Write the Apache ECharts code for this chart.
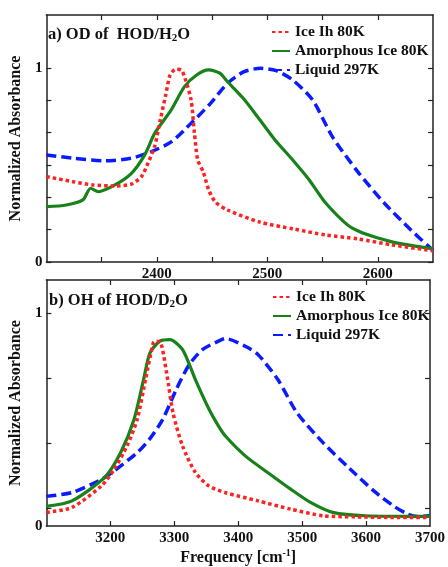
<!DOCTYPE html>
<html>
<head>
<meta charset="utf-8">
<script src="https://cdn.jsdelivr.net/npm/echarts@6/dist/echarts.min.js"></script>
<style>
  html, body { margin: 0; padding: 0; background: #fff; }
  #chart { width: 448px; height: 567px; }
</style>
</head>
<body>
<div id="chart"></div>
<script>
// a) OD of HOD/H2O
const freqIceA = [2300, 2324, 2342, 2362, 2377, 2386, 2392, 2398, 2403, 2408, 2412, 2417, 2422, 2426, 2431, 2434, 2437, 2442, 2447, 2453, 2464, 2493, 2524, 2553, 2582, 2613, 2650]
const iceA = [0.44, 0.414, 0.397, 0.392, 0.402, 0.44, 0.51, 0.595, 0.73, 0.86, 0.964, 0.993, 0.99, 0.938, 0.835, 0.665, 0.526, 0.464, 0.371, 0.309, 0.268, 0.206, 0.17, 0.139, 0.119, 0.088, 0.058]
const freqAmA = [2300, 2318, 2333, 2340, 2347, 2362, 2377, 2389, 2398, 2413, 2425, 2436, 2447, 2457, 2464, 2478, 2492, 2507, 2523, 2538, 2553, 2577, 2612, 2650]
const amA = [0.285, 0.294, 0.32, 0.38, 0.362, 0.397, 0.457, 0.552, 0.663, 0.784, 0.904, 0.964, 0.99, 0.973, 0.929, 0.845, 0.742, 0.629, 0.526, 0.423, 0.303, 0.174, 0.105, 0.068]
const freqLqA = [2300, 2324, 2353, 2377, 2395, 2413, 2431, 2448, 2464, 2479, 2494, 2508, 2523, 2541, 2559, 2583, 2606, 2630, 2650]
const lqA = [0.552, 0.535, 0.522, 0.535, 0.569, 0.619, 0.715, 0.814, 0.921, 0.981, 0.998, 0.986, 0.938, 0.835, 0.645, 0.457, 0.303, 0.165, 0.06]

// b) OH of HOD/D2O
const freqIceB = [3100, 3140, 3186, 3206, 3226, 3242, 3255, 3267, 3270, 3277, 3288, 3298, 3313, 3333, 3354, 3379, 3431, 3482, 3533, 3584, 3650, 3700]
const iceB = [0.064, 0.087, 0.188, 0.266, 0.375, 0.5, 0.687, 0.858, 0.866, 0.866, 0.718, 0.531, 0.375, 0.251, 0.188, 0.157, 0.118, 0.079, 0.048, 0.043, 0.04, 0.04]
const freqAmB = [3100, 3140, 3191, 3216, 3237, 3252, 3262, 3277, 3293, 3313, 3333, 3354, 3369, 3380, 3411, 3446, 3482, 3513, 3548, 3599, 3700]
const amB = [0.092, 0.118, 0.228, 0.344, 0.5, 0.687, 0.812, 0.866, 0.874, 0.827, 0.687, 0.55, 0.47, 0.422, 0.329, 0.251, 0.173, 0.111, 0.064, 0.048, 0.045]
const freqLqB = [3100, 3140, 3191, 3242, 3262, 3282, 3303, 3323, 3344, 3374, 3380, 3411, 3431, 3462, 3492, 3533, 3574, 3614, 3645, 3665, 3680, 3700]
const lqB = [0.139, 0.157, 0.228, 0.344, 0.41, 0.5, 0.64, 0.755, 0.827, 0.874, 0.879, 0.843, 0.804, 0.687, 0.531, 0.39, 0.27, 0.16, 0.09, 0.056, 0.045, 0.048]

// ticks and labels
const xTicksA = [2350, 2400, 2450, 2500, 2550, 2600]
const xLabelsA = [2400, 2500, 2600]
const yTicksA = [0, 1 / 6, 2 / 6, 3 / 6, 4 / 6, 5 / 6, 1]
const xTicksB = [3200, 3300, 3400, 3500, 3600]
const xLabelsB = [3200, 3300, 3400, 3500, 3600, 3700]
const yTicksB = [0.082, 0.388, 0.694, 1]
const yLabels = [0, 1]

const names = ['Ice Ih 80K', 'Amorphous Ice 80K', 'Liquid 297K']

const font = 'Liberation Serif'
const txt = {fontFamily: font, fontWeight: 'bold', color: '#111'}
const axisColor = '#222'

const zip = (xs, ys) => xs.map((x, i) => [x, ys[i]])

const makeX = (grid, min, max, ticks, labels, pos) => ({
  type: 'value', gridIndex: grid, min: min, max: max, position: pos,
  axisLine: {show: true, onZero: false, lineStyle: {color: axisColor, width: 1.5}},
  axisTick: {show: true, inside: true, length: 5, customValues: ticks, lineStyle: {color: axisColor, width: 1.2}},
  axisLabel: labels ? {show: true, customValues: labels, margin: 5, formatter: v => String(v), ...txt, fontSize: 15} : {show: false},
  splitLine: {show: false}
})

const makeY = (grid, max, ticks, pos, withLabels) => ({
  type: 'value', gridIndex: grid, min: 0, max: max, position: pos,
  axisLine: {show: true, onZero: false, lineStyle: {color: axisColor, width: 1.5}},
  axisTick: {show: true, inside: true, length: 5, customValues: ticks, lineStyle: {color: axisColor, width: 1.2}},
  axisLabel: withLabels ? {show: true, customValues: yLabels, margin: 4, formatter: v => String(v), ...txt, fontSize: 15} : {show: false},
  splitLine: {show: false},
  name: withLabels ? 'Normalized Absorbance' : '',
  nameLocation: 'middle',
  nameGap: 17,
  nameTextStyle: {...txt, fontSize: 16}
})

const lineStyles = [
  {color: '#ff2020', width: 3.5, type: [3.5, 3], cap: 'butt'},
  {color: '#17821a', width: 3.2, type: 'solid'},
  {color: '#0a1cff', width: 3.5, type: [10, 5], cap: 'butt'}
]

const makeSeries = (idx, data, axis) => ({
  name: names[idx],
  type: 'line',
  xAxisIndex: axis,
  yAxisIndex: axis,
  data: data,
  smooth: 0.25,
  symbol: 'none',
  lineStyle: lineStyles[idx],
  itemStyle: {color: lineStyles[idx].color},
  z: 3 - idx
})

const legendBase = {
  orient: 'vertical',
  itemWidth: 18,
  itemHeight: 10,
  itemGap: 3,
  data: names,
  itemStyle: {opacity: 0},
  textStyle: {...txt, fontSize: 15.5, lineHeight: 16},
  selectedMode: false
}

const titleRich = {
  a: {...txt, fontSize: 16.5, lineHeight: 19},
  s: {...txt, fontSize: 11, lineHeight: 12, verticalAlign: 'bottom'}
}

const chart = echarts.init(document.getElementById('chart'))
chart.setOption({
  animation: false,
  title: [
    {text: '{a|a) OD of  HOD/H}{s|2}{a|O}', left: 43, top: 20, textStyle: {rich: titleRich}},
    {text: '{a|b) OH of HOD/D}{s|2}{a|O}', left: 44, top: 286, textStyle: {rich: titleRich}}
  ],
  legend: [
    {...legendBase, left: 266, top: 19},
    {...legendBase, left: 267, top: 284}
  ],
  grid: [
    {left: 40, right: 15, top: 15, height: 247},
    {left: 40, right: 14, top: 280, height: 247}
  ],
  xAxis: [
    makeX(0, 2300, 2650, xTicksA, xLabelsA, 'bottom'),
    makeX(0, 2300, 2650, xTicksA, null, 'top'),
    {
      ...makeX(1, 3100, 3700, xTicksB, xLabelsB, 'bottom'),
      name: '{a|Frequency [cm}{p|-1}{a|]}',
      nameLocation: 'middle',
      nameGap: 22,
      nameTextStyle: {rich: {
        a: {...txt, fontSize: 16, lineHeight: 20},
        p: {...txt, fontSize: 10, lineHeight: 12, verticalAlign: 'top'}
      }}
    },
    makeX(1, 3100, 3700, xTicksB, null, 'top')
  ],
  yAxis: [
    makeY(0, 1.273, yTicksA, 'left', true),
    makeY(0, 1.273, yTicksA, 'right', false),
    makeY(1, 1.154, yTicksB, 'left', true),
    makeY(1, 1.154, yTicksB, 'right', false)
  ],
  series: [
    makeSeries(0, zip(freqIceA, iceA), 0),
    makeSeries(1, zip(freqAmA, amA), 0),
    makeSeries(2, zip(freqLqA, lqA), 0),
    makeSeries(0, zip(freqIceB, iceB), 2),
    makeSeries(1, zip(freqAmB, amB), 2),
    makeSeries(2, zip(freqLqB, lqB), 2)
  ]
})
</script>
</body>
</html>
